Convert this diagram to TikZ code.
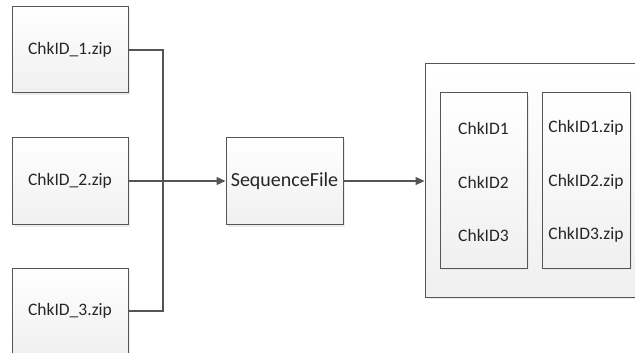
\documentclass[tikz,border=0pt]{standalone}
\usepackage{fontspec}
\setmainfont{Carlito}
\usetikzlibrary{arrows.meta,shadows}
\definecolor{edge}{HTML}{555555}
\tikzset{
  box/.style={draw=edge, line width=1pt, rectangle, top color=white, bottom color=black!6,
    drop shadow={shadow xshift=2pt, shadow yshift=-2pt, fill=black!12, opacity=0.6},
    inner sep=0pt, font=\fontsize{17.5}{20}\selectfont, text=black!85},
  conn/.style={draw=edge, line width=1.3pt},
  arr/.style={conn, -{Triangle[length=9pt,width=8pt]}},
  lbl/.style={font=\fontsize{17.5}{20}\selectfont, text=black!85, inner sep=0pt}
}
\begin{document}
\begin{tikzpicture}[x=1pt,y=-1pt]
\useasboundingbox (0,0) rectangle (635,353);
\clip (0,0) rectangle (635,353);
\node[box, minimum width=116pt, minimum height=86pt] (z1) at (70,50) {ChkID\_1.zip};
\node[box, minimum width=116pt, minimum height=87pt] (z2) at (70,181) {ChkID\_2.zip};
\node[box, minimum width=116pt, minimum height=86pt] (z3) at (70,311) {ChkID\_3.zip};
\node[box, minimum width=117pt, minimum height=87pt, font=\fontsize{20}{22}\selectfont] (seq) at (284.5,181) {SequenceFile};
\node[box, minimum width=225pt, minimum height=233pt] (outer) at (537.5,180.5) {};
\node[box, minimum width=87pt, minimum height=175pt] (ids) at (483.5,180.5) {};
\node[box, minimum width=88pt, minimum height=175pt] (zips) at (586,180.5) {};
\node[lbl] (i1) at (483.5,128) {ChkID1};
\node[lbl] (i2) at (483.5,182) {ChkID2};
\node[lbl] (i3) at (483.5,235) {ChkID3};
\node[lbl] (f1) at (586,128) {ChkID1.zip};
\node[lbl] (f2) at (586,182) {ChkID2.zip};
\node[lbl] (f3) at (586,235) {ChkID3.zip};
\coordinate (j) at (163,181);
\draw[conn] (z1.east) -| (j);
\draw[conn] (z3.east) -| (j);
\draw[arr] (z2.east) -- (seq.west);
\draw[arr] (seq.east) -- (outer.west |- seq.east);
\end{tikzpicture}
\end{document}
